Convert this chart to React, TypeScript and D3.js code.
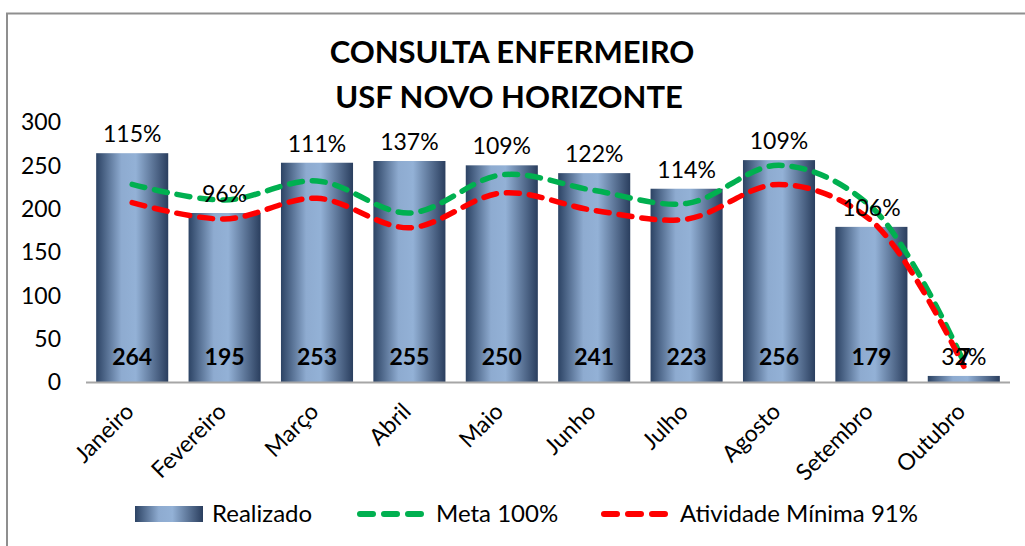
import React, { useEffect, useRef } from 'react';
import * as d3 from 'd3';

const months = ['Janeiro', 'Fevereiro', 'Março', 'Abril', 'Maio', 'Junho', 'Julho', 'Agosto', 'Setembro', 'Outubro'];
const realizado = [264, 195, 253, 255, 250, 241, 223, 256, 179, 7];
const meta = [228, 210, 232, 195, 239, 221, 206, 250, 202, 23];
const minima = [207, 188, 212, 178, 218, 198, 188, 228, 186, 18];
const percentLabels = ['115%', '96%', '111%', '137%', '109%', '122%', '114%', '109%', '106%', '32%'];
const yTicks = [0, 50, 100, 150, 200, 250, 300];

const FONT = "Lato, 'Open Sans', 'DejaVu Sans', sans-serif";

const App: React.FC = () => {
  const svgRef = useRef<SVGSVGElement>(null);

  useEffect(() => {
    if (!svgRef.current) return;
    const width = 1025;
    const height = 546;

    const svg = d3.select(svgRef.current);
    svg.selectAll('*').remove();
    svg.attr('width', width).attr('height', height);

    // bar gradient
    const defs = svg.append('defs');
    const grad = defs.append('linearGradient')
      .attr('id', 'bar-grad')
      .attr('x1', '0%').attr('y1', '0%').attr('x2', '100%').attr('y2', '0%');
    grad.append('stop').attr('offset', '0%').attr('stop-color', '#2c4364');
    grad.append('stop').attr('offset', '35%').attr('stop-color', '#8eabd0');
    grad.append('stop').attr('offset', '55%').attr('stop-color', '#93b1d6');
    grad.append('stop').attr('offset', '100%').attr('stop-color', '#2a3e5e');

    // outer frame
    svg.append('rect')
      .attr('x', 7).attr('y', 13.5)
      .attr('width', 1100).attr('height', 600)
      .attr('fill', 'white')
      .attr('stroke', '#8f8f8f')
      .attr('stroke-width', 2);

    // title
    const title = svg.append('text')
      .attr('text-anchor', 'middle')
      .style('font-family', FONT)
      .style('font-weight', 'bold')
      .style('font-size', '31px')
      .attr('fill', '#000');
    title.append('tspan').attr('x', 512).attr('y', 63).text('CONSULTA ENFERMEIRO');
    title.append('tspan').attr('x', 509).attr('y', 108).text('USF NOVO HORIZONTE');

    const x = d3.scaleBand<string>()
      .domain(months)
      .range([86, 1010])
      .paddingInner(0.22)
      .paddingOuter(0.11);

    const y = d3.scaleLinear().domain([0, 300]).range([382, 122]);

    // y tick labels
    svg.append('g')
      .selectAll('text')
      .data(yTicks)
      .join('text')
      .attr('x', 61)
      .attr('y', d => y(d))
      .attr('dy', '0.36em')
      .attr('text-anchor', 'end')
      .style('font-family', FONT)
      .style('font-size', '23px')
      .attr('fill', '#000')
      .text(d => d);

    // bars
    svg.append('g')
      .selectAll('rect')
      .data(realizado)
      .join('rect')
      .attr('x', (_, i) => x(months[i])!)
      .attr('y', d => y(d))
      .attr('width', x.bandwidth())
      .attr('height', d => y(0) - y(d))
      .attr('fill', 'url(#bar-grad)');

    // axis line
    svg.append('line')
      .attr('x1', 86).attr('x2', 1010)
      .attr('y1', y(0) + 0.5).attr('y2', y(0) + 0.5)
      .attr('stroke', '#a6a6a6')
      .attr('stroke-width', 2);

    const cx = (i: number) => x(months[i])! + x.bandwidth() / 2;

    // month labels
    svg.append('g')
      .selectAll('text')
      .data(months)
      .join('text')
      .attr('transform', (_, i) => `translate(${cx(i) + 3},${413}) rotate(-45)`)
      .attr('text-anchor', 'end')
      .style('font-family', FONT)
      .style('font-size', '23px')
      .attr('fill', '#000')
      .text(d => d);

    // lines
    const line = d3.line<number>()
      .x((_, i) => cx(i))
      .y(d => y(d))
      .curve(d3.curveCatmullRom.alpha(0.5));

    svg.append('path')
      .datum(meta)
      .attr('d', line)
      .attr('fill', 'none')
      .attr('stroke', '#00b050')
      .attr('stroke-width', 5.5)
      .attr('stroke-linecap', 'round')
      .attr('stroke-dasharray', '13 10');

    svg.append('path')
      .datum(minima)
      .attr('d', line)
      .attr('fill', 'none')
      .attr('stroke', '#ff0000')
      .attr('stroke-width', 5.5)
      .attr('stroke-linecap', 'round')
      .attr('stroke-dasharray', '13 10');

    // value labels (inside base)
    svg.append('g')
      .selectAll('text')
      .data(realizado)
      .join('text')
      .attr('x', (_, i) => cx(i))
      .attr('y', 365)
      .attr('text-anchor', 'middle')
      .style('font-family', FONT)
      .style('font-weight', 'bold')
      .style('font-size', '23px')
      .attr('fill', '#000')
      .text(d => d);

    // percent labels
    svg.append('g')
      .selectAll('text')
      .data(percentLabels)
      .join('text')
      .attr('x', (_, i) => cx(i))
      .attr('y', (_, i) => y(realizado[i]) - 11)
      .attr('text-anchor', 'middle')
      .style('font-family', FONT)
      .style('font-size', '23px')
      .attr('fill', '#000')
      .text(d => d);

    // legend
    const lg = svg.append('g').style('font-family', FONT).style('font-size', '24px');
    lg.append('rect')
      .attr('x', 135).attr('y', 506).attr('width', 68).attr('height', 16)
      .attr('fill', 'url(#bar-grad)');
    lg.append('text').attr('x', 212).attr('y', 522).text('Realizado');

    const legendLines = [
      { x0: 360, color: '#00b050', label: 'Meta 100%', tx: 436 },
      { x0: 604, color: '#ff0000', label: 'Atividade Mínima 91%', tx: 680 },
    ];
    legendLines.forEach(l => {
      lg.append('line')
        .attr('x1', l.x0).attr('x2', l.x0 + 62)
        .attr('y1', 514).attr('y2', 514)
        .attr('stroke', l.color)
        .attr('stroke-width', 6)
        .attr('stroke-linecap', 'round')
        .attr('stroke-dasharray', '13 11');
      lg.append('text').attr('x', l.tx).attr('y', 522).text(l.label);
    });
  }, []);

  return (
    <div style={{ position: 'absolute', left: 0, top: 0 }}>
      <svg ref={svgRef} style={{ display: 'block' }}></svg>
    </div>
  );
};

export default App;
